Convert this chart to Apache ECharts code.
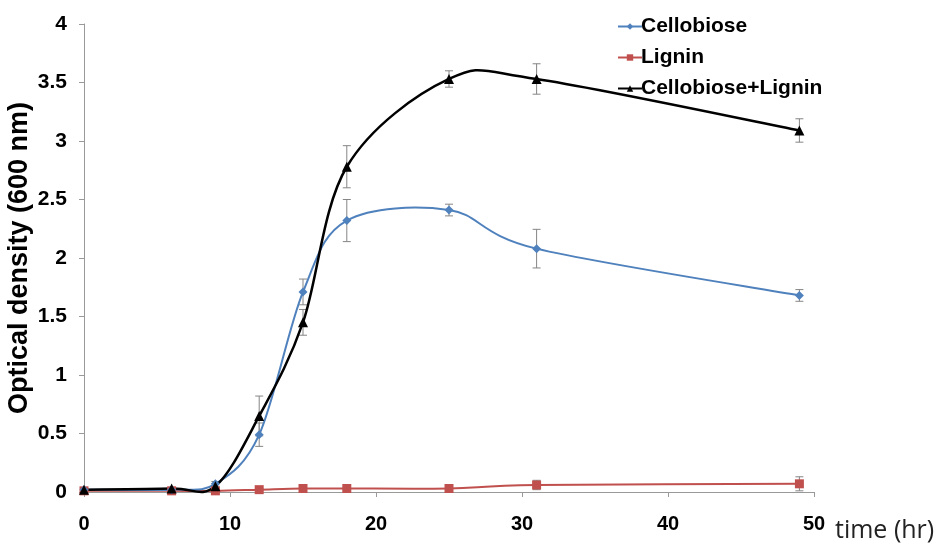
<!DOCTYPE html>
<html>
<head>
<meta charset="utf-8">
<script src="https://cdn.jsdelivr.net/npm/echarts@6/dist/echarts.min.js"></script>
<style>html,body{margin:0;padding:0;background:#fff}#c{width:942px;height:552px}</style>
</head>
<body>
<div id="c"></div>
<script>
const times = [0, 6, 9, 12, 15, 18, 25, 31, 49];
const cellobiose = [0.02, 0.02, 0.07, 0.49, 1.71, 2.32, 2.41, 2.08, 1.68];
const cellobioseErr = [0.01, 0.01, 0.02, 0.10, 0.11, 0.18, 0.05, 0.165, 0.05];
const lignin = [0.01, 0.01, 0.01, 0.02, 0.03, 0.03, 0.03, 0.06, 0.07];
const ligninErr = [0.005, 0.005, 0.005, 0.01, 0.01, 0.01, 0.01, 0.04, 0.06];
const combo = [0.02, 0.03, 0.05, 0.65, 1.45, 2.78, 3.53, 3.53, 3.09];
const comboErr = [0.01, 0.01, 0.02, 0.17, 0.11, 0.18, 0.07, 0.13, 0.10];
const xTicks = [0, 10, 20, 30, 40, 50];
const yTicks = [0, 0.5, 1, 1.5, 2, 2.5, 3, 3.5, 4];

function pairs(vals){ return times.map((t,i)=>[t, vals[i]]); }
function errData(vals, errs){ return times.map((t,i)=>[t, vals[i]-errs[i], vals[i]+errs[i]]); }

function errRender(params, api){
  const x = api.value(0), lo = api.value(1), hi = api.value(2);
  const pLo = api.coord([x, lo]), pHi = api.coord([x, hi]);
  const w = 4;
  const style = {stroke: '#858585', lineWidth: 1};
  return {type:'group', children:[
    {type:'line', shape:{x1:pLo[0], y1:pLo[1], x2:pHi[0], y2:pHi[1]}, style},
    {type:'line', shape:{x1:pLo[0]-w, y1:pLo[1], x2:pLo[0]+w, y2:pLo[1]}, style},
    {type:'line', shape:{x1:pHi[0]-w, y1:pHi[1], x2:pHi[0]+w, y2:pHi[1]}, style}
  ]};
}

// Spreadsheet-style smoothed curve (Catmull-Rom Bezier), one segment per data item
function curveRender(vals, color, width){
  return function(params, api){
    const i = params.dataIndex;
    const n = times.length;
    if (i >= n - 1) return null;
    const P = k => api.coord([times[Math.max(0, Math.min(n-1, k))], vals[Math.max(0, Math.min(n-1, k))]]);
    const p0 = P(i-1), p1 = P(i), p2 = P(i+1), p3 = P(i+2);
    const t = 1/6;
    return {type:'bezierCurve', shape:{
      x1:p1[0], y1:p1[1], x2:p2[0], y2:p2[1],
      cpx1:p1[0] + (p2[0]-p0[0])*t, cpy1:p1[1] + (p2[1]-p0[1])*t,
      cpx2:p2[0] - (p3[0]-p1[0])*t, cpy2:p2[1] - (p3[1]-p1[1])*t
    }, style:{stroke:color, lineWidth:width, fill:null}};
  };
}

const colors = {c:'#4F81BD', l:'#C0504D', cl:'#000000'};
const chart = echarts.init(document.getElementById('c'), null, {renderer:'canvas'});
const bold = {fontFamily:'Liberation Sans, Arial, sans-serif', fontWeight:'bold', color:'#000'};
chart.setOption({
  animation:false,
  backgroundColor:'#fff',
  grid:{left:84, right:128, top:24, bottom:60, containLabel:false, outerBoundsMode:'none'},
  legend:{
    orient:'vertical', left:612, top:11, itemGap:10, itemWidth:24, itemHeight:8,
    data:[
      {name:'Cellobiose', lineStyle:{opacity:1, color:colors.c, width:2}},
      {name:'Lignin', lineStyle:{opacity:1, color:colors.l, width:2}},
      {name:'Cellobiose+Lignin', lineStyle:{opacity:1, color:colors.cl, width:2}}
    ],
    textStyle:Object.assign({}, bold, {fontSize:21, padding:[0,0,0,-6]})
  },
  xAxis:{
    type:'value', min:0, max:50, interval:10,
    axisLine:{lineStyle:{color:'#999', width:1}},
    axisTick:{show:true, inside:false, length:5, lineStyle:{color:'#999'}},
    axisLabel:Object.assign({}, bold, {fontSize:20, margin:22, formatter:v=>xTicks.includes(v)?String(v):''}),
    splitLine:{show:false}
  },
  yAxis:{
    type:'value', min:0, max:4, interval:0.5,
    name:'Optical density (600 nm)', nameLocation:'middle', nameGap:51, nameRotate:90,
    nameMoveOverlap:false,
    nameTextStyle:Object.assign({}, bold, {fontSize:27}),
    axisLine:{show:true, lineStyle:{color:'#999', width:1}},
    axisTick:{show:true, inside:false, length:5, lineStyle:{color:'#999'}},
    axisLabel:Object.assign({}, bold, {fontSize:21, margin:17, formatter:v=>yTicks.includes(v)?String(v):''}),
    splitLine:{show:false}
  },
  graphic:[{type:'text', x:835, y:531, style:{text:'time (hr)', font:'25px "Open Sans", sans-serif', fill:'#222', textVerticalAlign:'middle'}}],
  series:[
    {type:'custom', name:'errC', renderItem:errRender, data:errData(cellobiose, cellobioseErr), z:1, silent:true},
    {type:'custom', name:'errL', renderItem:errRender, data:errData(lignin, ligninErr), z:1, silent:true},
    {type:'custom', name:'errCL', renderItem:errRender, data:errData(combo, comboErr), z:1, silent:true},
    {type:'custom', name:'curveL', renderItem:curveRender(lignin, colors.l, 2), data:pairs(lignin), z:2, silent:true},
    {type:'custom', name:'curveC', renderItem:curveRender(cellobiose, colors.c, 2), data:pairs(cellobiose), z:2, silent:true},
    {type:'custom', name:'curveCL', renderItem:curveRender(combo, colors.cl, 2.5), data:pairs(combo), z:2, silent:true},
    {type:'line', name:'Lignin', data:pairs(lignin), symbol:'rect', symbolSize:9,
      lineStyle:{opacity:0, color:colors.l}, itemStyle:{color:colors.l}, z:3},
    {type:'line', name:'Cellobiose', data:pairs(cellobiose), symbol:'diamond', symbolSize:9,
      lineStyle:{opacity:0, color:colors.c}, itemStyle:{color:colors.c}, z:4},
    {type:'line', name:'Cellobiose+Lignin', data:pairs(combo), symbol:'triangle', symbolSize:10,
      lineStyle:{opacity:0, color:colors.cl}, itemStyle:{color:colors.cl}, z:5}
  ]
});
</script>
</body>
</html>
